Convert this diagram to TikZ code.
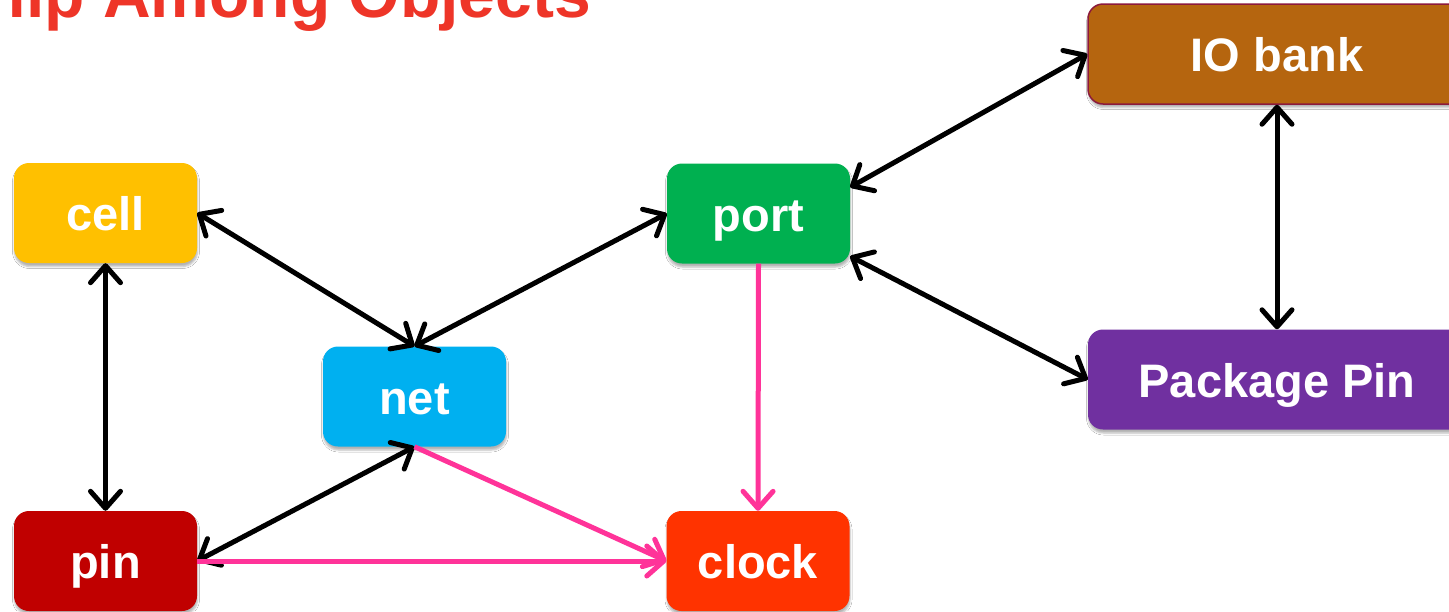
\documentclass[tikz,border=0pt]{standalone}
\usepackage{fontspec}
\setmainfont{Liberation Sans}
\usetikzlibrary{arrows.meta,shadows.blur}

\definecolor{cellfill}{HTML}{FFC000}
\definecolor{pinfill}{HTML}{C00000}
\definecolor{netfill}{HTML}{00B0F0}
\definecolor{portfill}{HTML}{00B050}
\definecolor{clockfill}{HTML}{FF3300}
\definecolor{bankfill}{HTML}{B5650F}
\definecolor{bankedge}{HTML}{8C1A3C}
\definecolor{pkgfill}{HTML}{7030A0}
\definecolor{flowpink}{HTML}{FF3399}
\definecolor{titlered}{HTML}{EE3528}

\tikzset{
  objbox/.style={
    rounded corners=15pt, minimum width=183pt, minimum height=100pt,
    inner sep=0pt, text=white, text height=35pt, text depth=0pt,
    font=\fontsize{47}{50}\selectfont\bfseries,
    blur shadow={shadow xshift=0.5pt, shadow yshift=-3.5pt,
                 shadow blur radius=2pt, shadow opacity=30}},
  widebox/.style={objbox, minimum width=378pt},
  barb/.tip={Straight Barb[length=17pt,width=30pt,round]},
  link/.style={line width=5pt, black, barb-barb},
  flow/.style={line width=5pt, flowpink, -barb}
}

\begin{document}
\begin{tikzpicture}[x=1pt,y=-1pt]
\useasboundingbox (0,0) rectangle (1449,611);
\fill[white] (0,0) rectangle (1449,611);

% heading, running off the top-left edge
\node[anchor=base east, inner sep=0pt, text=titlered,
      font=\fontsize{66}{70}\selectfont\bfseries] (title) at (591,17)
  {Relationship Among Objects};

% object boxes
\node[objbox, fill=cellfill]  (cell)  at (105.5,213)   {cell};
\node[objbox, fill=pinfill]   (pin)   at (105.5,561)   {pin};
\node[objbox, fill=netfill]   (net)   at (414.5,396.5) {net};
\node[objbox, fill=portfill]  (port)  at (758.5,213.5) {port};
\node[objbox, fill=clockfill] (clock) at (758,561)     {clock};
\node[widebox, fill=bankfill, draw=bankedge, line width=1.5pt]
      (bank) at (1277,54) {IO bank};
\node[widebox, fill=pkgfill] (pkg) at (1277,379.5) {Package Pin};

% two-way relations
\draw[link] (cell.south) -- (pin.north);
\draw[link] (cell.east) -- (net.north);
\draw[link] (port.west) -- (net.north);
\draw[link] (net.south) -- (pin.east);
\draw[link] (port.16.7) -- (bank.west);
\draw[link] (port.-25.9) -- (pkg.west);
\draw[link] (bank.south) -- (pkg.north);

% clock relations
\draw[flow] (port.south) -- (clock.north);
\draw[flow] (net.south) -- (clock.west);
\draw[flow] (pin.east) -- (clock.west);
\end{tikzpicture}
\end{document}
